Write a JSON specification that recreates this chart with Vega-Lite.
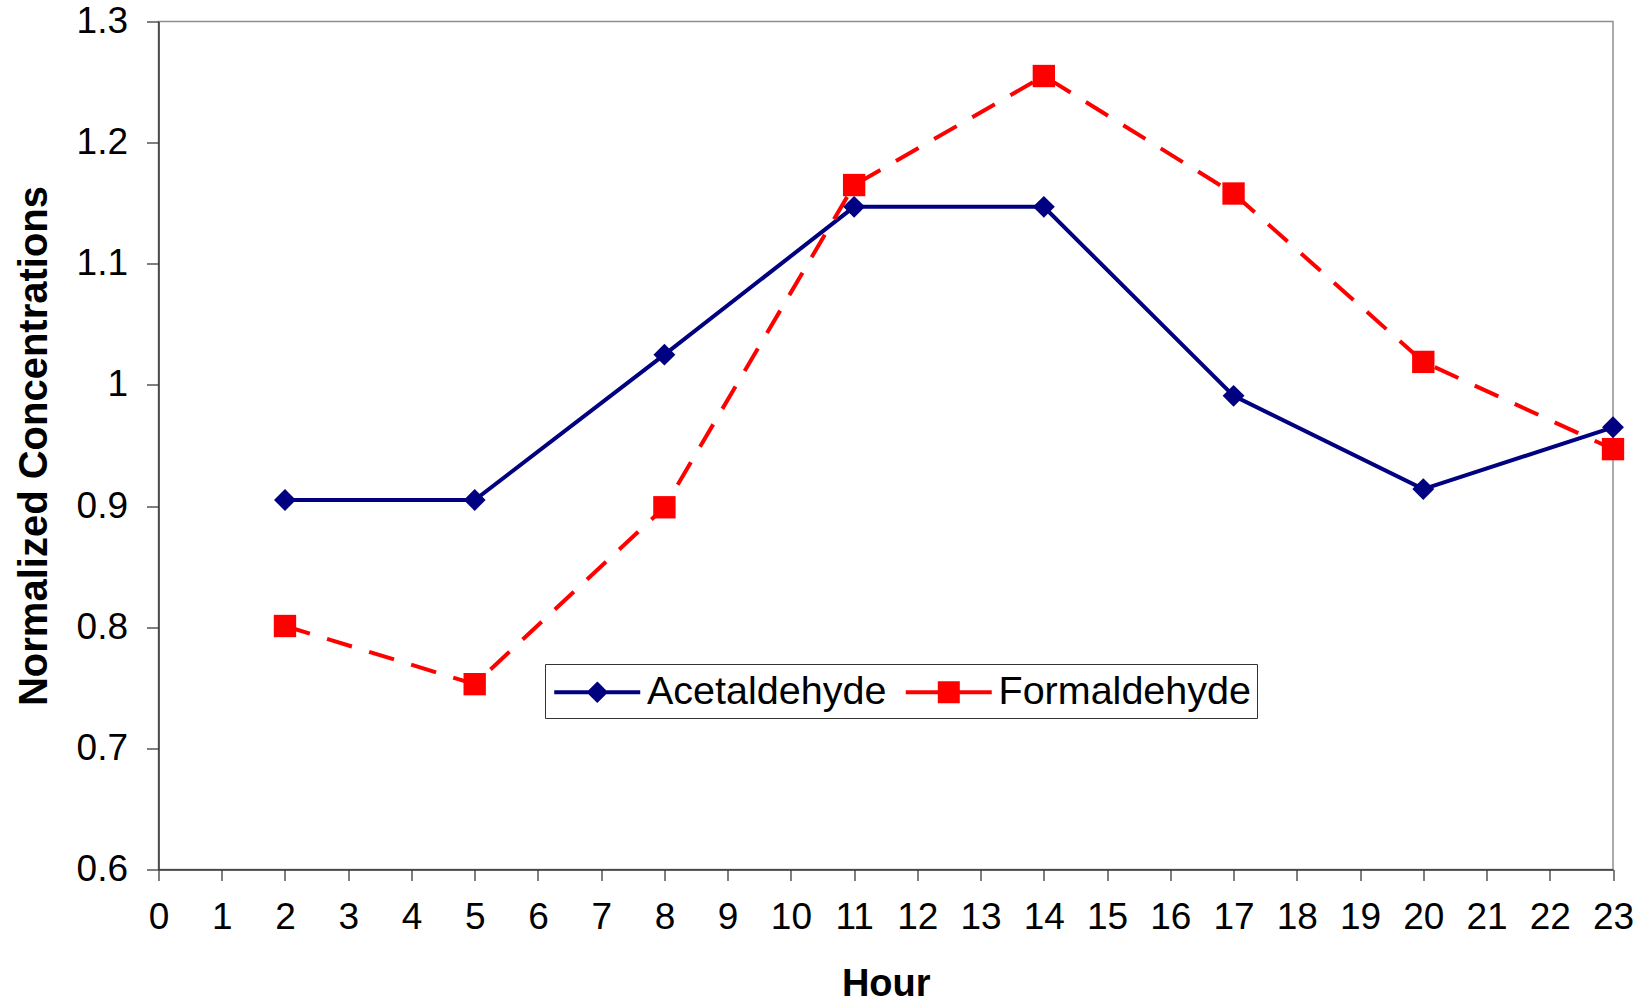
{
  "$schema": "https://vega.github.io/schema/vega-lite/v6.json",
  "autosize": "none",
  "width": 1454.5,
  "height": 848,
  "padding": {"left": 158.5, "top": 21.5, "right": 33, "bottom": 133.5},
  "background": "white",
  "config": {
    "font": "Liberation Sans",
    "view": {"stroke": "#8f8f8f", "strokeWidth": 1.5},
    "axis": {
      "grid": false,
      "domainColor": "#333333",
      "domainWidth": 1.5,
      "tickColor": "#555555",
      "tickWidth": 1.5,
      "labelFont": "Liberation Sans",
      "labelFontSize": 37,
      "labelColor": "black",
      "titleFont": "Liberation Sans",
      "titleFontWeight": "bold",
      "titleColor": "black",
      "labelFlush": false,
      "labelOverlap": false,
      "labelBound": false
    }
  },
  "datasets": {
    "d": [
      {"hour": 2, "series": "Acetaldehyde", "value": 0.905},
      {"hour": 5, "series": "Acetaldehyde", "value": 0.905},
      {"hour": 8, "series": "Acetaldehyde", "value": 1.025},
      {"hour": 11, "series": "Acetaldehyde", "value": 1.147},
      {"hour": 14, "series": "Acetaldehyde", "value": 1.147},
      {"hour": 17, "series": "Acetaldehyde", "value": 0.991},
      {"hour": 20, "series": "Acetaldehyde", "value": 0.914},
      {"hour": 23, "series": "Acetaldehyde", "value": 0.965},
      {"hour": 2, "series": "Formaldehyde", "value": 0.801},
      {"hour": 5, "series": "Formaldehyde", "value": 0.753},
      {"hour": 8, "series": "Formaldehyde", "value": 0.899},
      {"hour": 11, "series": "Formaldehyde", "value": 1.165},
      {"hour": 14, "series": "Formaldehyde", "value": 1.255},
      {"hour": 17, "series": "Formaldehyde", "value": 1.158},
      {"hour": 20, "series": "Formaldehyde", "value": 1.019},
      {"hour": 23, "series": "Formaldehyde", "value": 0.947}
    ]
  },
  "data": {"name": "d"},
  "encoding": {
    "x": {
      "field": "hour",
      "type": "quantitative",
      "scale": {"domain": [0, 23], "nice": false, "zero": false},
      "axis": {
        "title": "Hour",
        "titleFontSize": 38,
        "titlePadding": 30,
        "values": [0,1,2,3,4,5,6,7,8,9,10,11,12,13,14,15,16,17,18,19,20,21,22,23],
        "tickSize": 11,
        "labelPadding": 19,
        "labelAngle": 0
      }
    },
    "y": {
      "field": "value",
      "type": "quantitative",
      "scale": {"domain": [0.6, 1.3], "nice": false, "zero": false},
      "axis": {
        "title": "Normalized Concentrations",
        "titleFontSize": 40,
        "titlePadding": 22,
        "values": [0.6, 0.7, 0.8, 0.9, 1.0, 1.1, 1.2, 1.3],
        "format": ".1~f",
        "tickSize": 12,
        "labelPadding": 19
      }
    }
  },
  "layer": [
    {
      "transform": [{"filter": "datum.series == 'Acetaldehyde'"}],
      "mark": {"type": "line", "strokeWidth": 4, "strokeCap": "butt", "stroke": "#000080"}
    },
    {
      "transform": [{"filter": "datum.series == 'Formaldehyde'"}],
      "mark": {"type": "line", "strokeWidth": 4, "strokeCap": "butt", "stroke": "#ff0000", "strokeDash": [26, 18]}
    },
    {
      "transform": [{"filter": "datum.series == 'Acetaldehyde'"}],
      "mark": {"type": "point", "shape": "diamond", "filled": true, "fill": "#000080", "size": 480, "opacity": 1, "strokeWidth": 0}
    },
    {
      "transform": [{"filter": "datum.series == 'Formaldehyde'"}],
      "mark": {"type": "point", "shape": "square", "filled": true, "fill": "#ff0000", "size": 500, "opacity": 1, "strokeWidth": 0}
    },
    {
      "transform": [{"filter": "false"}],
      "mark": {"type": "point", "filled": true, "opacity": 1, "strokeWidth": 4},
      "encoding": {
        "fill": {
          "field": "series",
          "type": "nominal",
          "scale": {"domain": ["Acetaldehyde", "Formaldehyde"], "range": ["#000080", "#ff0000"]},
          "legend": {
            "title": null,
            "orient": "none",
            "direction": "horizontal",
            "legendX": 386.5,
            "legendY": 642.5,
            "strokeColor": "#333333",
            "fillColor": "white",
            "padding": 6,
            "symbolSize": 1560,
            "symbolStrokeWidth": 4,
            "symbolOpacity": 1,
            "labelFont": "Liberation Sans",
            "labelFontSize": 39.5,
            "labelColor": "black",
            "labelOffset": 52,
            "columnPadding": 10.5,
            "labelLimit": 500
          }
        },
        "stroke": {
          "field": "series",
          "type": "nominal",
          "scale": {"domain": ["Acetaldehyde", "Formaldehyde"], "range": ["#000080", "#ff0000"]}
        },
        "shape": {
          "field": "series",
          "type": "nominal",
          "scale": {
            "domain": ["Acetaldehyde", "Formaldehyde"],
            "range": ["M-0.95,0H3.405M1.23,-0.405L1.635,0L1.23,0.405L0.825,0Z", "M-0.95,0H3.405M0.774,-0.456H1.686V0.456H0.774Z"]
          }
        }
      }
    }
  ]
}
